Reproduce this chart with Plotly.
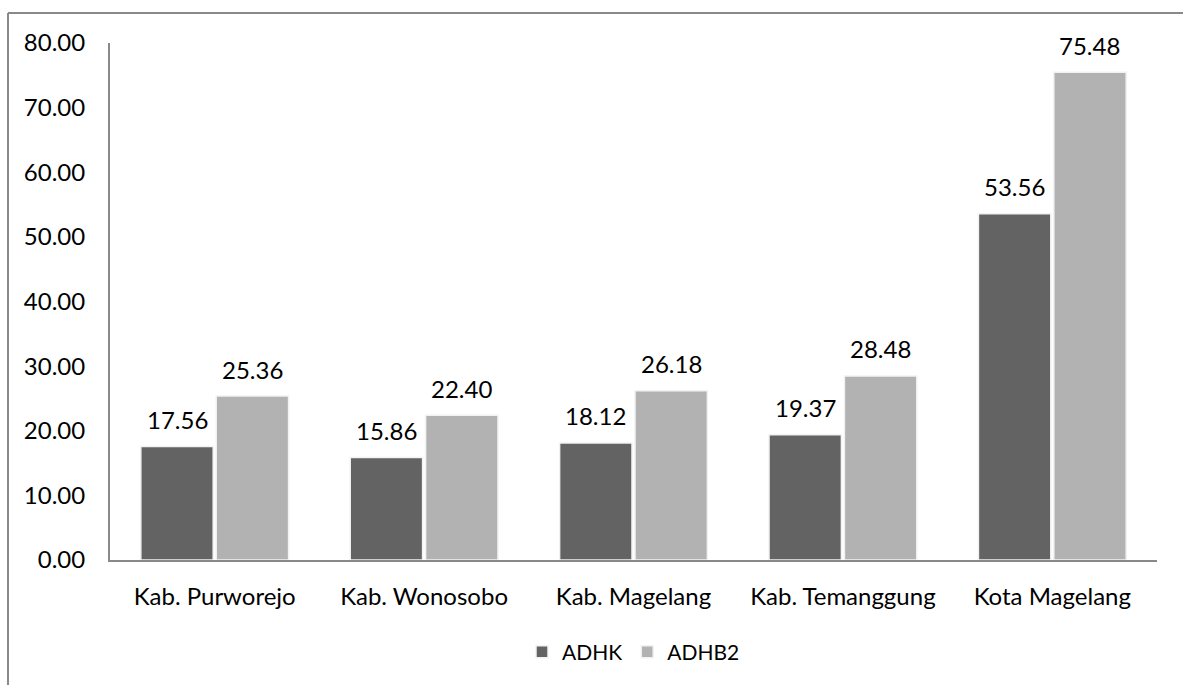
import plotly.graph_objects as go

categories = ["Kab. Purworejo", "Kab. Wonosobo", "Kab. Magelang", "Kab. Temanggung", "Kota Magelang"]
adhk = [17.56, 15.86, 18.12, 19.37, 53.56]
adhb2 = [25.36, 22.40, 26.18, 28.48, 75.48]
y_ticks = [0, 10, 20, 30, 40, 50, 60, 70, 80]

W, H = 1183, 685
ml, mr, mt, mb = 110, 26, 43, 125
pw, ph = W - ml - mr, H - mt - mb

FONT = "Lato"
TXT = 24
BARGAP, GROUPGAP = 0.28, 0.04

fig = go.Figure()
series = [("ADHK", adhk, "#636363"), ("ADHB2", adhb2, "#b2b2b2")]
for name, vals, col in series:
    fig.add_trace(go.Bar(
        name=name, x=categories, y=vals,
        marker=dict(color=col, line=dict(color="#f2f2f2", width=1.5)),
    ))

# value labels above each bar
slot = pw / len(categories) * (1 - BARGAP) / len(series)
for i, (name, vals, col) in enumerate(series):
    shift = (i - (len(series) - 1) / 2) * slot
    for c, v in zip(categories, vals):
        fig.add_annotation(x=c, y=v, text=f"{v:.2f}", showarrow=False,
                           xshift=shift, yshift=27, yanchor="middle",
                           font=dict(family=FONT, size=TXT, color="#000000"))

# outer frame of the chart area (left and top edges)
fx0 = (8 - ml) / pw
fy1 = 1 + (mt - 13) / ph
fy0 = -(H - (mt + ph)) / ph
fx1 = (W - ml) / pw
fig.add_shape(type="line", xref="paper", yref="paper", x0=fx0, x1=fx0, y0=fy0, y1=fy1,
              line=dict(color="#898989", width=2))
fig.add_shape(type="line", xref="paper", yref="paper", x0=fx0, x1=fx1, y0=fy1, y1=fy1,
              line=dict(color="#898989", width=2))

fig.update_layout(
    width=W, height=H,
    margin=dict(l=ml, r=mr, t=mt, b=mb),
    paper_bgcolor="white", plot_bgcolor="white",
    barmode="group", bargap=BARGAP, bargroupgap=GROUPGAP,
    font=dict(family=FONT, size=TXT, color="#000000"),
    showlegend=True,
    legend=dict(orientation="h", x=0.5, xanchor="center", y=-(652 - mt - ph) / ph, yanchor="middle",
                font=dict(family=FONT, size=21), itemwidth=30, traceorder="normal"),
    xaxis=dict(showline=True, linecolor="#898989", linewidth=2, ticks="", showgrid=False,
               ticklabelstandoff=14, tickfont=dict(family=FONT, size=TXT)),
    yaxis=dict(range=[0, 80], tickvals=y_ticks, tickformat=".2f", showline=True,
               linecolor="#898989", linewidth=2, showgrid=False, zeroline=False, ticks="",
               ticklabelstandoff=18, tickfont=dict(family=FONT, size=TXT)),
)

fig.write_html("out.html")
